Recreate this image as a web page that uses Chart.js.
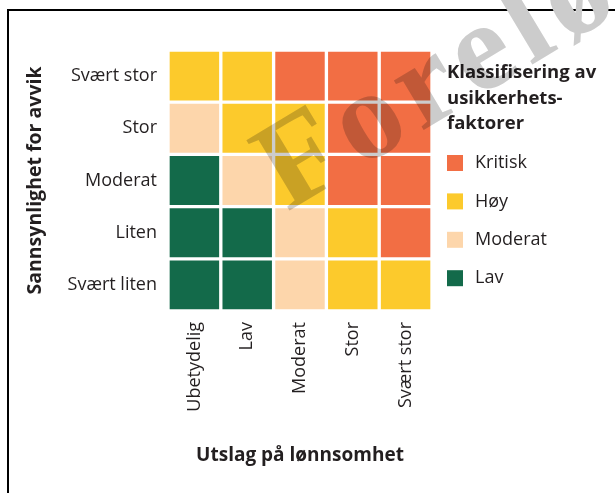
<!DOCTYPE html>
<html lang="no">
<head>
<meta charset="utf-8">
<title>Risikomatrise</title>
<script src="https://cdn.jsdelivr.net/npm/chart.js@4.4.1/dist/chart.umd.min.js"></script>
<style>
    html, body { margin: 0; padding: 0; background: #fff; overflow: hidden; }
    .frame {
        position: absolute;
        left: 7px; top: 9px;
        width: 700px; height: 600px;
        border: 2px solid #000;
    }
    .wrap { position: absolute; left: 0; top: 0; width: 615px; height: 493px; }
</style>
</head>
<body>
<div class="frame"></div>
<div class="wrap"><canvas id="riskChart" width="615" height="493"></canvas></div>
<script>
// Axis categories
const impactLabels = ['Ubetydelig', 'Lav', 'Moderat', 'Stor', 'Svært stor'];
const likelihoodLabels = ['Svært liten', 'Liten', 'Moderat', 'Stor', 'Svært stor']; // bottom -> top

// Risk classes and their colours
const classNames = ['Kritisk', 'Høy', 'Moderat', 'Lav'];
const classColors = ['#F26E44', '#FCCA2C', '#FDD6AB', '#136A4A'];

// Class of each cell, one row per likelihood level, columns follow impactLabels
const rowSvaertLiten = ['Lav', 'Lav', 'Moderat', 'Høy', 'Høy'];
const rowLiten       = ['Lav', 'Lav', 'Moderat', 'Høy', 'Kritisk'];
const rowModerat     = ['Lav', 'Moderat', 'Høy', 'Kritisk', 'Kritisk'];
const rowStor        = ['Moderat', 'Høy', 'Høy', 'Kritisk', 'Kritisk'];
const rowSvaertStor  = ['Høy', 'Høy', 'Kritisk', 'Kritisk', 'Kritisk'];
const riskRows = [rowSvaertLiten, rowLiten, rowModerat, rowStor, rowSvaertStor];

const legendTitle = ['Klassifisering av', 'usikkerhets-', 'faktorer'];
const xTitle = 'Utslag på lønnsomhet';
const yTitle = 'Sannsynlighet for avvik';
const watermarkText = 'Foreløpig';

const FONT = '"Open Sans", "Noto Sans", sans-serif';
const TEXT = '#231F20';

function colorOf(name) {
    return classColors[classNames.indexOf(name)];
}

// one floating bar per cell, spanning its likelihood band
const datasets = riskRows.map((row, r) => ({
    label: likelihoodLabels[r],
    data: row.map(() => [r, r + 1]),
    backgroundColor: row.map(colorOf),
    borderColor: '#ffffff',
    borderWidth: 2,
    borderSkipped: false,
    grouped: false,
    barPercentage: 1,
    categoryPercentage: 1
}));

// legend drawn on the right side
const legendPlugin = {
    id: 'riskLegend',
    afterDraw(chart) {
        const ctx = chart.ctx;
        ctx.save();
        ctx.fillStyle = TEXT;
        ctx.textAlign = 'left';
        ctx.textBaseline = 'middle';
        ctx.font = 'bold 18.5px ' + FONT;
        legendTitle.forEach((line, i) => {
            ctx.fillText(line, 447, 73 + i * 25.5);
        });
        ctx.font = '18px ' + FONT;
        classNames.forEach((name, i) => {
            const cy = 163 + i * 38.4;
            ctx.fillStyle = classColors[i];
            ctx.fillRect(447, cy - 8, 16, 16);
            ctx.fillStyle = TEXT;
            ctx.fillText(name, 475, cy);
        });
        ctx.restore();
    }
};

// diagonal "Foreløpig" stamp, letters spaced out a little
const watermarkPlugin = {
    id: 'watermark',
    afterDraw(chart) {
        const ctx = chart.ctx;
        ctx.save();
        ctx.globalCompositeOperation = 'multiply';
        ctx.fillStyle = 'rgb(204,204,204)';
        ctx.translate(287, 212);
        ctx.rotate(-31 * Math.PI / 180);
        ctx.font = 'bold 126px "Liberation Serif", serif';
        ctx.textAlign = 'left';
        ctx.textBaseline = 'alphabetic';
        let x = 0;
        for (const ch of watermarkText) {
            ctx.fillText(ch, x, 0);
            x += ctx.measureText(ch).width + 8;
        }
        ctx.restore();
    }
};

const ctx = document.getElementById('riskChart').getContext('2d');
const riskChart = new Chart(ctx, {
    type: 'bar',
    data: {
        labels: impactLabels,
        datasets: datasets
    },
    options: {
        responsive: false,
        animation: false,
        layout: {
            padding: { top: 50, right: 183, left: 0, bottom: 0 }
        },
        plugins: {
            legend: { display: false },
            tooltip: { enabled: false }
        },
        scales: {
            x: {
                type: 'category',
                grid: { display: false, drawTicks: false },
                border: { display: false },
                ticks: {
                    color: TEXT,
                    font: { family: FONT, size: 18 },
                    minRotation: 90,
                    maxRotation: 90,
                    padding: 11
                },
                title: {
                    display: true,
                    text: xTitle,
                    color: TEXT,
                    font: { family: FONT, size: 19, weight: 'bold' },
                    padding: { top: 0, bottom: 26 }
                },
                afterFit(scale) { scale.height = 182; }
            },
            y: {
                type: 'linear',
                min: 0,
                max: 5,
                grid: { display: false, drawTicks: false },
                border: { display: false },
                afterBuildTicks(scale) {
                    scale.ticks = likelihoodLabels.map((_, i) => ({ value: i + 0.5 }));
                },
                ticks: {
                    color: TEXT,
                    font: { family: FONT, size: 18 },
                    padding: 11,
                    callback: (v) => likelihoodLabels[Math.floor(v)]
                },
                title: {
                    display: true,
                    text: yTitle,
                    color: TEXT,
                    font: { family: FONT, size: 19.5, weight: 'bold' },
                    padding: { top: 24, bottom: 0 }
                },
                afterFit(scale) { scale.width = 168; }
            }
        }
    },
    plugins: [legendPlugin, watermarkPlugin]
});
</script>
</body>
</html>
